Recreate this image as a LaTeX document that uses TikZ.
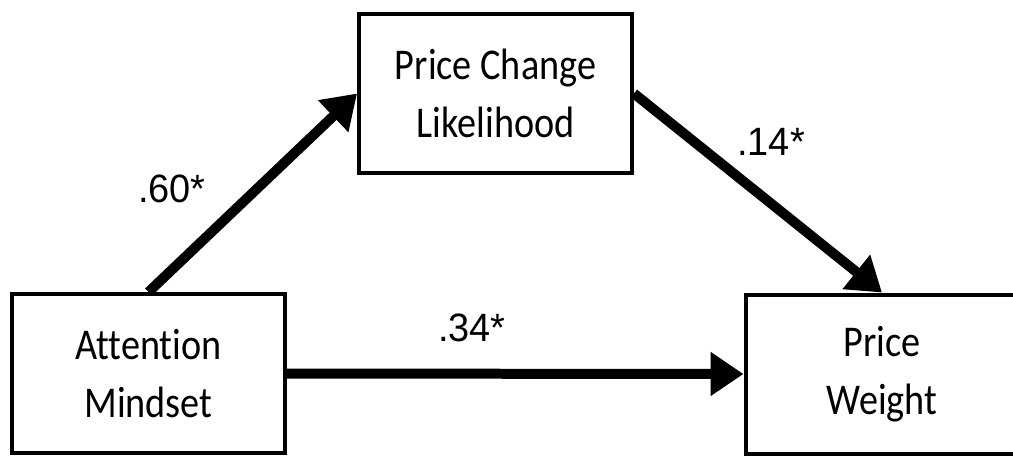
\documentclass[tikz,border=0pt]{standalone}
\usepackage{fontspec}
\setmainfont{Carlito}[FakeStretch=0.87, Ligatures=NoCommon]
\newfontfamily\coeffont{Liberation Sans}[FakeStretch=0.96]
\usepackage{tikz}
\usetikzlibrary{arrows.meta, positioning}
\definecolor{mydark}{RGB}{0,0,0}
\tikzset{
  varbox/.style={rectangle, draw=mydark, fill=white, line width=0.08cm,
    minimum width=5.46cm, minimum height=3.18cm, align=center,
    font=\fontsize{25}{33}\selectfont, inner sep=0pt},
  patharrow/.style={-{Triangle[length=0.66cm, width=0.84cm]},
    line width=0.2cm, color=mydark},
  coef/.style={font=\coeffont\fontsize{22.5}{27}\selectfont, inner sep=0pt}
}
\begin{document}
\begin{tikzpicture}[x=0.02cm, y=-0.02cm]
  \useasboundingbox (0,0) rectangle (1013,458);
  \clip (0,0) rectangle (1013,458);
  % --- variables ---
  \node[varbox] (attn) at (148.5,373.5) {Attention\\Mindset};
  \node[varbox] (plik) at (495.5,93.5) {Price Change\\Likelihood};
  \node[varbox] (pwgt) at (882,374) {Price\\Weight};

  % --- paths ---
  \draw[patharrow] (attn.north) -- (plik.west);
  \draw[patharrow] (plik.east) -- (pwgt.north);
  \draw[patharrow] (attn.east) -- (pwgt.west);

  % --- coefficients ---
  \node[coef] (c60) at (172,189) {.60*};
  \node[coef] (c14) at (771,142) {.14*};
  \node[coef] (c34) at (472,328) {.34*};
\end{tikzpicture}
\end{document}
